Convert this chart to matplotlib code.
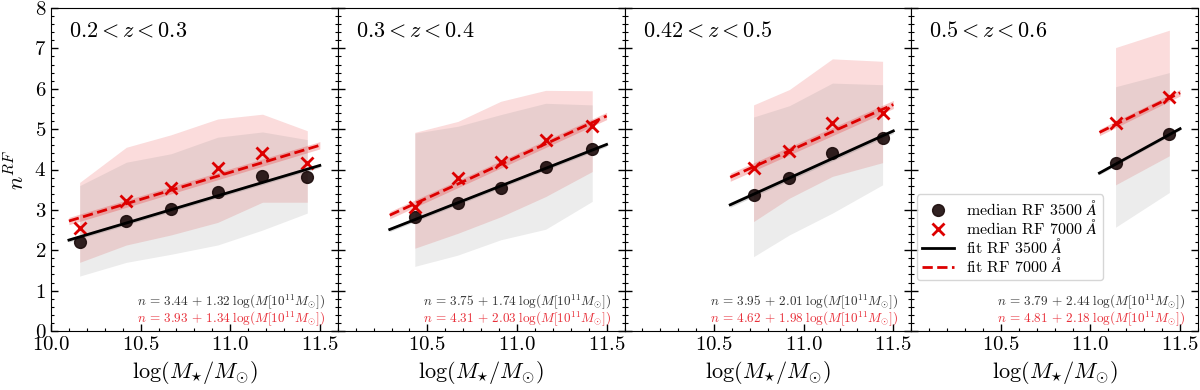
import numpy as np
import matplotlib
matplotlib.use("Agg")
import matplotlib.pyplot as plt
from matplotlib.ticker import MultipleLocator

plt.rcParams['mathtext.fontset'] = 'cm'
plt.rcParams['font.family'] = 'serif'
plt.rcParams['font.serif'] = ['cmr10', 'DejaVu Serif']
plt.rcParams['axes.formatter.use_mathtext'] = True

# ---------------- data ----------------
z_labels = [r'$0.2 < z < 0.3$', r'$0.3 < z < 0.4$', r'$0.42 < z < 0.5$', r'$0.5 < z < 0.6$']

mass_bins = [
    [10.16, 10.42, 10.67, 10.93, 11.18, 11.43],
    [10.43, 10.67, 10.91, 11.16, 11.42],
    [10.72, 10.92, 11.16, 11.44],
    [11.14, 11.44],
]
median_3500 = [
    [2.21, 2.73, 3.02, 3.44, 3.83, 3.81],
    [2.82, 3.18, 3.55, 4.07, 4.51],
    [3.36, 3.80, 4.42, 4.78],
    [4.16, 4.88],
]
median_7000 = [
    [2.54, 3.22, 3.55, 4.04, 4.42, 4.16],
    [3.08, 3.79, 4.18, 4.74, 5.08],
    [4.03, 4.45, 5.15, 5.40],
    [5.15, 5.79],
]
# percentile envelopes
lo_3500 = [
    [1.36, 1.70, 1.90, 2.13, 2.50, 2.92],
    [1.60, 1.88, 2.26, 2.52, 3.21],
    [1.84, 2.38, 2.92, 3.62],
    [2.57, 3.43],
]
hi_3500 = [
    [3.60, 4.18, 4.39, 4.80, 4.93, 4.74],
    [4.90, 5.07, 5.36, 5.64, 5.60],
    [5.30, 5.58, 6.14, 6.10],
    [6.05, 6.40],
]
lo_7000 = [
    [1.70, 2.13, 2.38, 2.69, 3.19, 3.19],
    [2.05, 2.42, 2.83, 3.33, 3.95],
    [2.71, 3.29, 3.83, 4.17],
    [3.62, 4.34],
]
hi_7000 = [
    [3.68, 4.55, 4.86, 5.25, 5.37, 4.96],
    [4.92, 5.19, 5.69, 5.96, 5.95],
    [5.60, 5.98, 6.74, 6.68],
    [7.02, 7.45],
]
# linear fits n = a + b (logM - 11)
fit_a_3500 = [3.44, 3.75, 3.95, 3.79]
fit_b_3500 = [1.32, 1.74, 2.01, 2.44]
fit_a_7000 = [3.93, 4.31, 4.62, 4.81]
fit_b_7000 = [1.34, 2.03, 1.98, 2.18]
fit_xmin = [10.10, 10.29, 10.59, 11.05]
fit_xmax = [11.50, 11.50, 11.50, 11.50]
fit_err_3500 = [0.05, 0.05, 0.06, 0.04]
fit_err_7000 = [0.09, 0.09, 0.10, 0.08]

# ---------------- figure ----------------
fig = plt.figure(figsize=(12, 3.9), dpi=100)
left, right, bottom, top = 51/1200, 1198/1200, 59/390, 1 - 8/390
w = (right - left) / 4
axes = [fig.add_axes([left + i*w, bottom, w, top - bottom]) for i in range(4)]

eq_fmt = r'$n\,=\,%.2f\,+\,%.2f\;\log(M[10^{11}M_{\odot}])$'

for i, ax in enumerate(axes):
    x = np.array(mass_bins[i])
    ax.fill_between(x, lo_7000[i], hi_7000[i], color='#e83030', alpha=0.17, lw=0)
    ax.fill_between(x, lo_3500[i], hi_3500[i], color='gray', alpha=0.15, lw=0)

    xf = np.linspace(fit_xmin[i], fit_xmax[i], 50)
    y35 = fit_a_3500[i] + fit_b_3500[i] * (xf - 11)
    y70 = fit_a_7000[i] + fit_b_7000[i] * (xf - 11)
    ax.fill_between(xf, y35 - fit_err_3500[i], y35 + fit_err_3500[i], color='gray', alpha=0.3, lw=0)
    ax.fill_between(xf, y70 - fit_err_7000[i], y70 + fit_err_7000[i], color='#e83030', alpha=0.28, lw=0)

    ax.plot(x, median_3500[i], 'o', color='#1a0a0a', ms=8.5, alpha=0.9, label=r'median RF 3500 $\AA$')
    ax.plot(x, median_7000[i], 'x', color='#dd0000', ms=9, mew=2, label=r'median RF 7000 $\AA$')
    ax.plot(xf, y35, '-', color='black', lw=2, label=r'fit RF 3500 $\AA$')
    ax.plot(xf, y70, '--', color='#dd0000', lw=2, label=r'fit RF 7000 $\AA$')

    ax.text(0.063, 0.93, z_labels[i], transform=ax.transAxes, fontsize=16, va='center', ha='left')
    ax.text(0.955, 0.090, eq_fmt % (fit_a_3500[i], fit_b_3500[i]),
            transform=ax.transAxes, fontsize=9.5, ha='right', va='center', color='#333333')
    ax.text(0.955, 0.038, eq_fmt % (fit_a_7000[i], fit_b_7000[i]),
            transform=ax.transAxes, fontsize=9.5, ha='right', va='center', color='#e8303a')

    ax.set_xlim(10.0, 11.6)
    ax.set_ylim(0, 8)
    ax.xaxis.set_minor_locator(MultipleLocator(0.1))
    ax.yaxis.set_minor_locator(MultipleLocator(0.2))
    ax.yaxis.set_major_locator(MultipleLocator(1))
    if i == 0:
        ax.set_xticks([10.0, 10.5, 11.0, 11.5])
    else:
        ax.set_xticks([10.5, 11.0, 11.5])
    ax.tick_params(which='both', direction='in', top=False, right=True, labelsize=15)
    ax.tick_params(which='major', length=5, width=1)
    ax.tick_params(which='minor', length=2.5, width=0.8)
    if i > 0:
        ax.set_yticklabels([])
    ax.set_xlabel(r'$\log(M_{\star}/M_{\odot})$', fontsize=16)

axes[0].set_ylabel(r'$n^{RF}$', fontsize=16)
axes[3].legend(loc='lower left', bbox_to_anchor=(0.02, 0.158), borderaxespad=0, fontsize=11.5,
               fancybox=True, framealpha=0.8, edgecolor='#cccccc', handlelength=2.0,
               labelspacing=0.0, borderpad=0.3, handletextpad=0.8)

fig.savefig('out.png', dpi=100)
